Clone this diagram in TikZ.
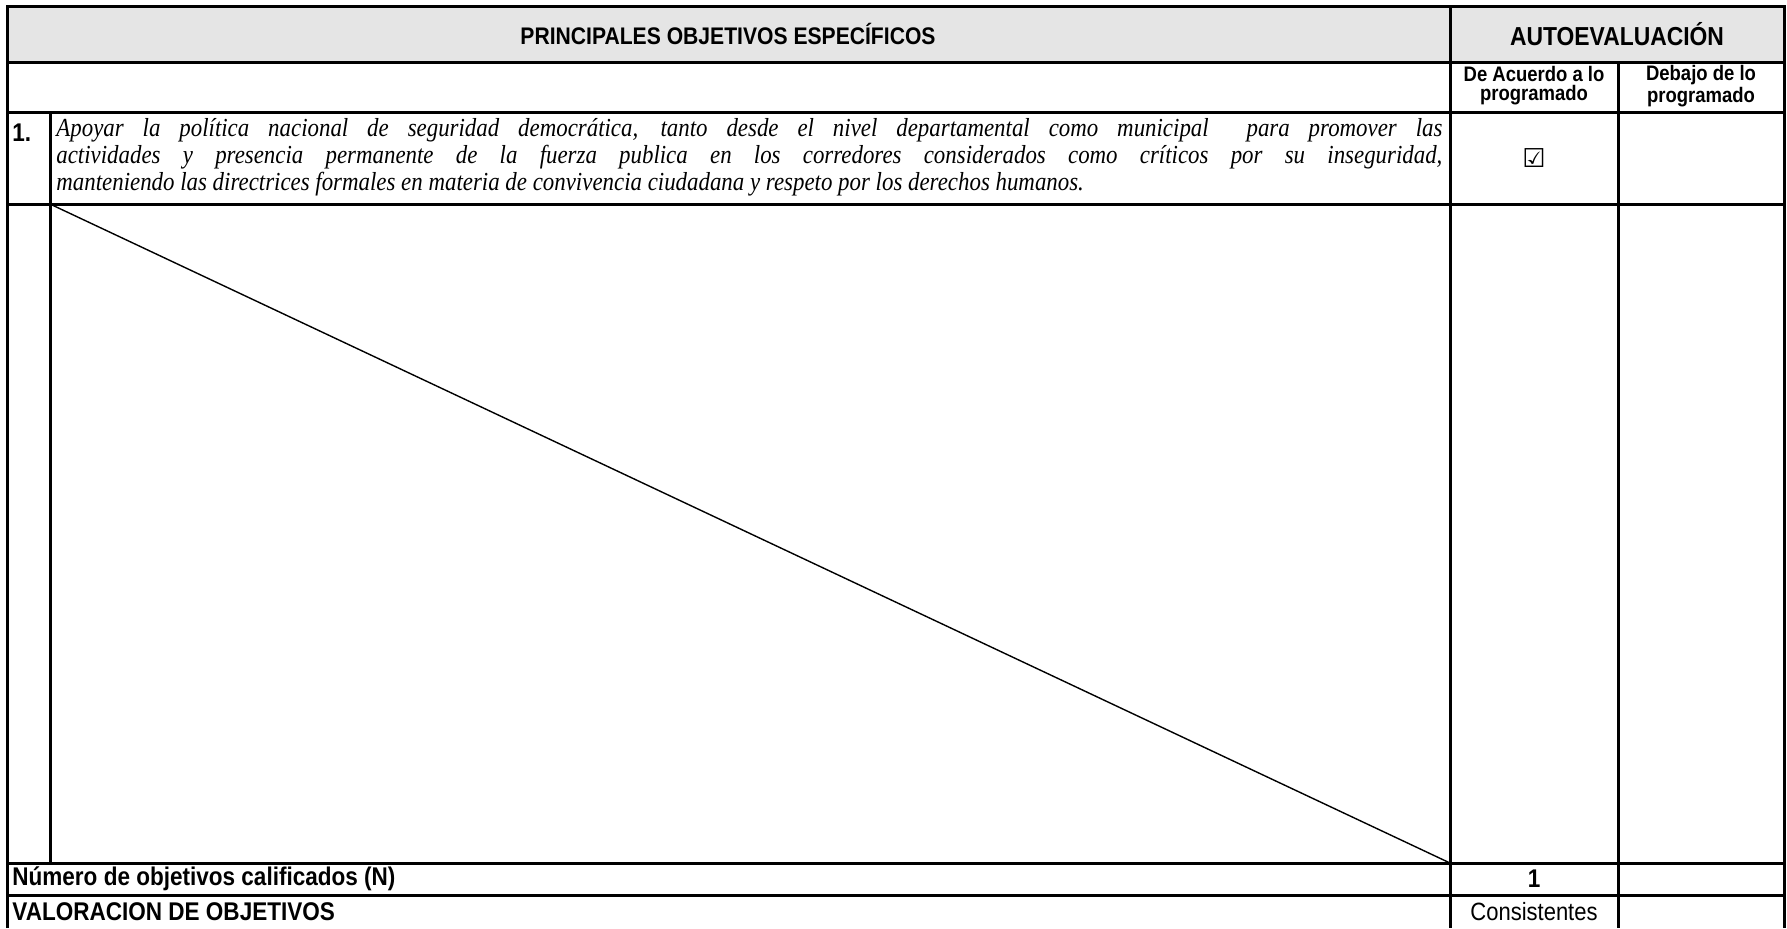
\documentclass[tikz,border=0pt]{standalone}
\usepackage{fontspec}
\usepackage{tikz}
\setmainfont{Liberation Serif}[FakeStretch=0.88]
\newfontfamily\arialn{Liberation Sans}[FakeStretch=0.88]
\newfontfamily\symfont{DejaVu Sans}

\begin{document}
\begin{tikzpicture}[x=0.5pt,y=-0.5pt,
    rule/.style={line width=1.5pt},
    headtxt/.style={font=\arialn\bfseries\fontsize{12}{14}\selectfont},
    coltxt/.style={font=\arialn\bfseries\fontsize{10.5}{9.5}\selectfont,align=center,inner sep=0pt},
    rowtxt/.style={font=\arialn\bfseries\fontsize{12.8}{14}\selectfont},
    celltxt/.style={font=\arialn\fontsize{12.5}{14}\selectfont}]
    \useasboundingbox (0,0) rectangle (1787,928);
    \fill [black!10] (7,6) rectangle (1784,62);
    \draw [rule] (7,928) -- (7,6) -- (1784,6) -- (1784,928);
    \foreach \y in {62,112,204,863,895}
    {
        \draw [rule] (7,\y) -- (1784,\y);
    }
    \draw [rule] (1450,6) -- (1450,928);
    \draw [rule] (1618,62) -- (1618,928);
    \draw [rule] (50,112) -- (50,863);
    \draw [line width=0.7pt] (50,204) -- (1450,863);
    \node [headtxt] (hdrobj) at (728,34) {PRINCIPALES OBJETIVOS ESPECÍFICOS};
    \node [headtxt,font=\arialn\bfseries\fontsize{13}{14}\selectfont] (hdrauto) at (1617,34) {AUTOEVALUACIÓN};
    \node [coltxt] (colacu) at (1534,86) {De Acuerdo a lo\\programado};
    \node [coltxt] (coldeb) at (1701,86) {Debajo de lo\\programado};
    \node [rowtxt,anchor=base west,inner sep=0pt] (num) at (12,141) {1.};
    \node [anchor=north west,inner sep=0pt,text width=693pt,align=justify,
        font=\itshape\fontsize{13}{13.5}\selectfont] (objtext) at (56,118)
        {\hyphenpenalty=10000 Apoyar la política nacional de seguridad democrática, tanto desde el nivel departamental como municipal\ \ para promover las\linebreak
        actividades y presencia permanente de la fuerza publica en los corredores considerados como críticos por su inseguridad,\linebreak
        manteniendo las directrices formales en materia de convivencia ciudadana y respeto por los derechos humanos.};
    \node [font=\symfont\fontsize{13}{14}\selectfont] (check) at (1534,158) {☑};
    \node [rowtxt,anchor=west,inner sep=0pt] (numlbl) at (12,879) {Número de objetivos calificados (N)};
    \node [rowtxt] (numval) at (1534,879) {1};
    \node [rowtxt,anchor=west,inner sep=0pt] (vallbl) at (12,912) {VALORACION DE OBJETIVOS};
    \node [celltxt] (valval) at (1534,912) {Consistentes};
\end{tikzpicture}
\end{document}
